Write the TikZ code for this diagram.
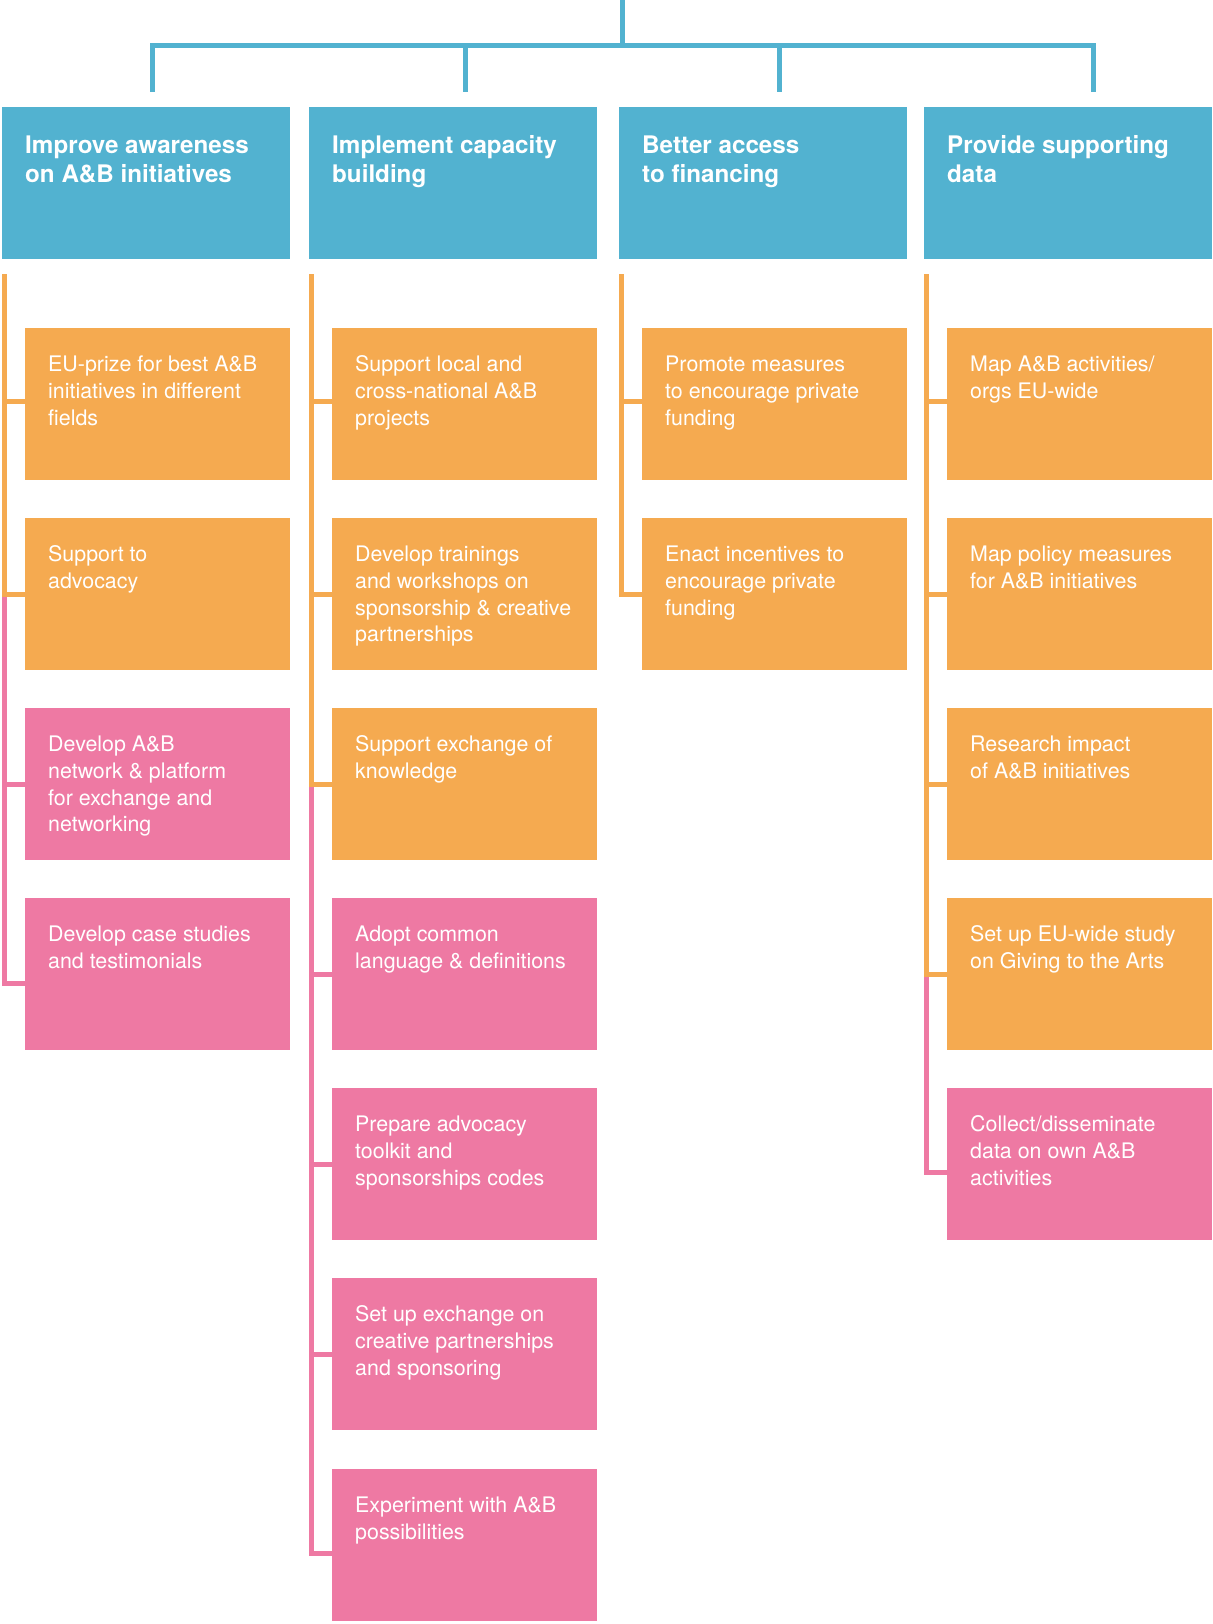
\documentclass[tikz,border=0pt]{standalone}
\usepackage{fontspec}
\setmainfont{TeX Gyre Heros}
\usetikzlibrary{calc}
\definecolor{abblue}{HTML}{52B2D0}
\definecolor{aborange}{HTML}{F5AA50}
\definecolor{abpink}{HTML}{EE79A3}
\tikzset{
  bluebox/.style={draw=none,fill=abblue,anchor=north west,inner sep=0pt,minimum width=288pt,minimum height=152pt},
  orbox/.style={draw=none,fill=aborange,anchor=north west,inner sep=0pt,minimum width=265pt,minimum height=152pt},
  pkbox/.style={draw=none,fill=abpink,anchor=north west,inner sep=0pt,minimum width=265pt,minimum height=152pt},
  titletext/.style={anchor=base west,inner sep=0pt,text=white,font=\fontsize{24.2}{29}\selectfont\bfseries},
  itemtext/.style={anchor=base west,inner sep=0pt,text=white,font=\fontsize{21.4}{26.8}\selectfont},
  bcon/.style={draw=abblue,line width=5pt,line join=miter},
  ocon/.style={draw=aborange,line width=5pt,line join=miter},
  pcon/.style={draw=abpink,line width=5pt,line join=miter},
}
\newcommand{\tlines}[1]{\parbox[t]{260pt}{\raggedright #1}}
\begin{document}
\begin{tikzpicture}[x=1pt,y=-1pt]
\useasboundingbox (0,0) rectangle (1212,1624);
\fill[white] (0,0) rectangle (1212,1624);

% ---------- top tree ----------
\coordinate (root) at (622.5,0);
\coordinate (d1) at (152,92);
\coordinate (d2) at (465.5,92);
\coordinate (d3) at (779.5,92);
\coordinate (d4) at (1093,92);
\coordinate (bar) at (622.5,46);
\draw[bcon] (d1) -- (d1 |- bar) -| (d4);
\draw[bcon] (d2) -- (d2 |- bar);
\draw[bcon] (d3) -- (d3 |- bar);
\draw[bcon] (root) -- (bar);

% ---------- headers ----------
\node[bluebox] (h1) at (2,107) {};
\node[bluebox] (h2) at (309,107) {};
\node[bluebox] (h3) at (619,107) {};
\node[bluebox] (h4) at (924,107) {};
\node[titletext] (t1) at ($(h1.north west)+(23,47)$) {\tlines{Improve awareness\\on A\&B initiatives}};
\node[titletext] (t2) at ($(h2.north west)+(23,47)$) {\tlines{Implement capacity\\building}};
\node[titletext] (t3) at ($(h3.north west)+(23,47)$) {\tlines{Better access\\to financing}};
\node[titletext] (t4) at ($(h4.north west)+(23,47)$) {\tlines{Provide supporting\\data}};

% ---------- column 1 ----------
\node[orbox] (a1) at (25,328) {};
\node[orbox] (a2) at (25,518) {};
\node[pkbox] (a3) at (25,708) {};
\node[pkbox] (a4) at (25,898) {};
\node[itemtext] at ($(a1.north west)+(23,43.5)$) {\tlines{EU-prize for best A\&B\\initiatives in different\\fields}};
\node[itemtext] at ($(a2.north west)+(23,43.5)$) {\tlines{Support to\\advocacy}};
\node[itemtext] at ($(a3.north west)+(23,43.5)$) {\tlines{Develop A\&B\\network \& platform\\for exchange and\\networking}};
\node[itemtext] at ($(a4.north west)+(23,43.5)$) {\tlines{Develop case studies\\and testimonials}};
\coordinate (s1) at (4.5,274);
\coordinate (a1t) at ($(a1.north west)+(0,73)$);
\coordinate (a4t) at ($(a4.north west)+(0,85)$);
\draw[pcon] (a3.west -| s1) |- (a4t);
\draw[pcon] (a2.west -| s1) |- (a3.west);
\draw[ocon] (a1t -| s1) |- (a2.west);
\draw[ocon] (s1) |- (a1t);

% ---------- column 2 ----------
\node[orbox] (b1) at (332,328) {};
\node[orbox] (b2) at (332,518) {};
\node[orbox] (b3) at (332,708) {};
\node[pkbox] (b4) at (332,898) {};
\node[pkbox] (b5) at (332,1088) {};
\node[pkbox] (b6) at (332,1278) {};
\node[pkbox] (b7) at (332,1469) {};
\node[itemtext] at ($(b1.north west)+(23,43.5)$) {\tlines{Support local and\\cross-national A\&B\\projects}};
\node[itemtext] at ($(b2.north west)+(23,43.5)$) {\tlines{Develop trainings\\and workshops on\\sponsorship \& creative\\partnerships}};
\node[itemtext] at ($(b3.north west)+(23,43.5)$) {\tlines{Support exchange of\\knowledge}};
\node[itemtext] at ($(b4.north west)+(23,43.5)$) {\tlines{Adopt common\\language \& definitions}};
\node[itemtext] at ($(b5.north west)+(23,43.5)$) {\tlines{Prepare advocacy\\toolkit and\\sponsorships codes}};
\node[itemtext] at ($(b6.north west)+(23,43.5)$) {\tlines{Set up exchange on\\creative partnerships\\and sponsoring}};
\node[itemtext] at ($(b7.north west)+(23,43.5)$) {\tlines{Experiment with A\&B\\possibilities}};
\coordinate (s2) at (311.5,274);
\coordinate (b1t) at ($(b1.north west)+(0,73)$);
\coordinate (b7t) at ($(b7.north west)+(0,84.5)$);
\draw[pcon] (b6.west -| s2) |- (b7t);
\draw[pcon] (b5.west -| s2) |- (b6.west);
\draw[pcon] (b4.west -| s2) |- (b5.west);
\draw[pcon] (b3.west -| s2) |- (b4.west);
\draw[ocon] (b2.west -| s2) |- (b3.west);
\draw[ocon] (b1t -| s2) |- (b2.west);
\draw[ocon] (s2) |- (b1t);

% ---------- column 3 ----------
\node[orbox] (c1) at (642,328) {};
\node[orbox] (c2) at (642,518) {};
\node[itemtext] at ($(c1.north west)+(23,43.5)$) {\tlines{Promote measures\\to encourage private\\funding}};
\node[itemtext] at ($(c2.north west)+(23,43.5)$) {\tlines{Enact incentives to\\encourage private\\funding}};
\coordinate (s3) at (621.5,274);
\coordinate (c1t) at ($(c1.north west)+(0,73)$);
\draw[ocon] (c1t -| s3) |- (c2.west);
\draw[ocon] (s3) |- (c1t);

% ---------- column 4 ----------
\node[orbox] (e1) at (947,328) {};
\node[orbox] (e2) at (947,518) {};
\node[orbox] (e3) at (947,708) {};
\node[orbox] (e4) at (947,898) {};
\node[pkbox] (e5) at (947,1088) {};
\node[itemtext] at ($(e1.north west)+(23,43.5)$) {\tlines{Map A\&B activities/\\orgs EU-wide}};
\node[itemtext] at ($(e2.north west)+(23,43.5)$) {\tlines{Map policy measures\\for A\&B initiatives}};
\node[itemtext] at ($(e3.north west)+(23,43.5)$) {\tlines{Research impact\\of A\&B initiatives}};
\node[itemtext] at ($(e4.north west)+(23,43.5)$) {\tlines{Set up EU-wide study\\on Giving to the Arts}};
\node[itemtext] at ($(e5.north west)+(23,43.5)$) {\tlines{Collect/disseminate\\data on own A\&B\\activities}};
\coordinate (s4) at (926.5,274);
\coordinate (e1t) at ($(e1.north west)+(0,73)$);
\coordinate (e5t) at ($(e5.north west)+(0,84.5)$);
\draw[pcon] (e4.west -| s4) |- (e5t);
\draw[ocon] (e3.west -| s4) |- (e4.west);
\draw[ocon] (e2.west -| s4) |- (e3.west);
\draw[ocon] (e1t -| s4) |- (e2.west);
\draw[ocon] (s4) |- (e1t);
\end{tikzpicture}
\end{document}
